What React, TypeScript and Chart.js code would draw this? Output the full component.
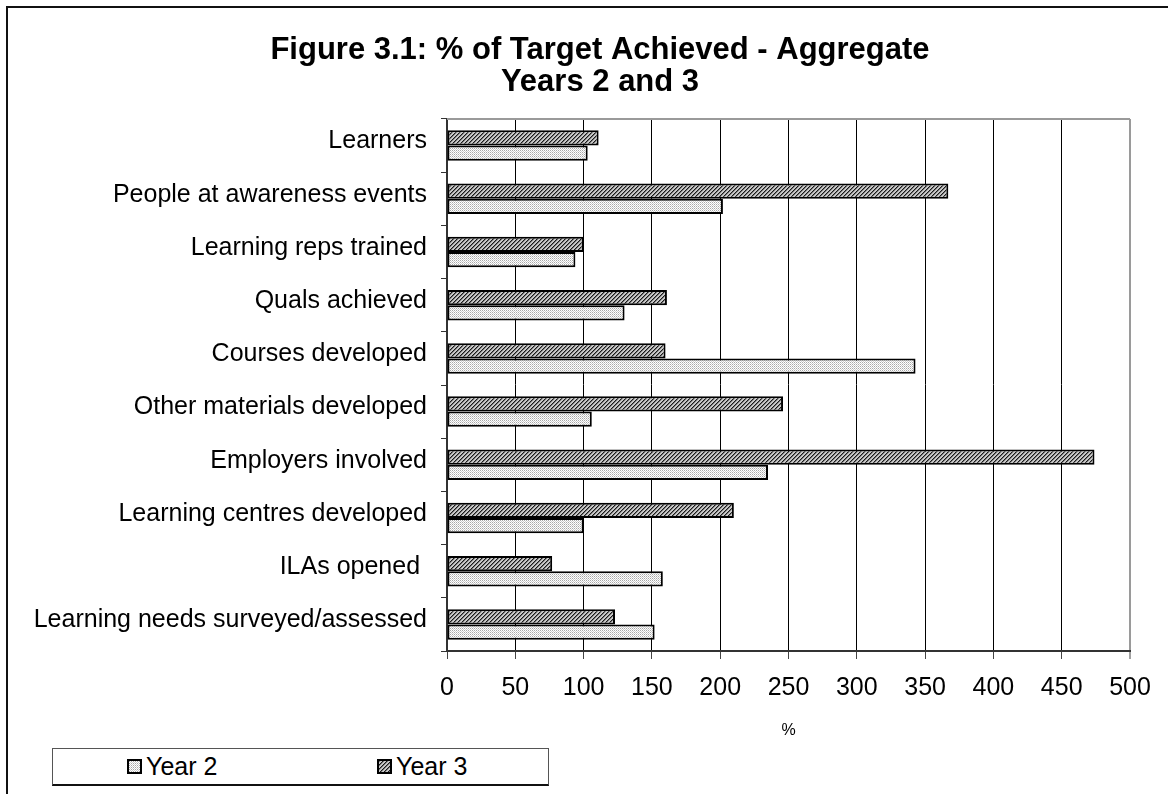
import React, { useEffect, useRef } from "react";
import { Chart, registerables } from "chart.js";

Chart.register(...registerables);

const categories = [
  "Learners",
  "People at awareness events",
  "Learning reps trained",
  "Quals achieved",
  "Courses developed",
  "Other materials developed",
  "Employers involved",
  "Learning centres developed",
  "ILAs opened ",
  "Learning needs surveyed/assessed",
];
const year2 = [103, 202, 94, 130, 343, 106, 235, 100, 158, 152];
const year3 = [111, 367, 100, 161, 160, 246, 474, 210, 77, 123];
const seriesNames = ["Year 2", "Year 3"];
const titleLines = ["Figure 3.1: % of Target Achieved - Aggregate", "Years 2 and 3"];
const xAxisTitle = "%";
const xMin = 0;
const xMax = 500;
const xStep = 50;

const FONT = '"Liberation Sans", Arial, Helvetica, sans-serif';

function makeHatch(): HTMLCanvasElement {
  const c = document.createElement("canvas");
  c.width = 4;
  c.height = 4;
  const g = c.getContext("2d")!;
  g.fillStyle = "#c8c8c8";
  g.fillRect(0, 0, 4, 4);
  for (let i = 0; i < 4; i++) {
    g.fillStyle = "#1a1a1a";
    g.fillRect(i, 3 - i, 1, 1);
    g.fillStyle = "#777";
    g.fillRect(i, (4 - i) % 4, 1, 1);
  }
  return c;
}

function makeDots(): HTMLCanvasElement {
  const c = document.createElement("canvas");
  c.width = 2;
  c.height = 2;
  const g = c.getContext("2d")!;
  g.fillStyle = "#ffffff";
  g.fillRect(0, 0, 2, 2);
  g.fillStyle = "#a8a8a8";
  g.fillRect(0, 0, 1, 1);
  g.fillStyle = "#cfcfcf";
  g.fillRect(1, 1, 1, 1);
  return c;
}

const decoPlugin = {
  id: "deco",
  beforeDatasetsDraw(chart: any) {
    const { ctx, chartArea: a } = chart;
    ctx.save();
    ctx.strokeStyle = "#9a9a9a";
    ctx.lineWidth = 2;
    ctx.beginPath();
    ctx.moveTo(a.left, a.top);
    ctx.lineTo(a.right, a.top);
    ctx.stroke();
    ctx.restore();
  },
  afterDraw(chart: any) {
    const { ctx } = chart;
    ctx.save();
    ctx.fillStyle = "#000";
    ctx.font = `bold 31px ${FONT}`;
    ctx.textAlign = "center";
    ctx.textBaseline = "alphabetic";
    ctx.fillText(titleLines[0], 600, 59);
    ctx.fillText(titleLines[1], 600, 91);
    ctx.restore();
  },
};

export default function App() {
  const canvasRef = useRef<HTMLCanvasElement | null>(null);
  const sw2 = useRef<HTMLDivElement | null>(null);
  const sw3 = useRef<HTMLDivElement | null>(null);

  useEffect(() => {
    const canvas = canvasRef.current!;
    const hatchC = makeHatch();
    const dotsC = makeDots();
    const ctx = canvas.getContext("2d")!;
    const hatch = ctx.createPattern(hatchC, "repeat")!;
    const dots = ctx.createPattern(dotsC, "repeat")!;
    if (sw2.current) sw2.current.style.backgroundImage = `url(${dotsC.toDataURL()})`;
    if (sw3.current) sw3.current.style.backgroundImage = `url(${hatchC.toDataURL()})`;

    const chart = new Chart(canvas, {
      type: "bar",
      data: {
        labels: categories,
        datasets: [
          {
            label: seriesNames[1],
            data: year3,
            backgroundColor: hatch as any,
            borderColor: "#000",
            borderWidth: 2,
            borderSkipped: false,
            categoryPercentage: 0.574,
            barPercentage: 1,
          },
          {
            label: seriesNames[0],
            data: year2,
            backgroundColor: dots as any,
            borderColor: "#000",
            borderWidth: 2,
            borderSkipped: false,
            categoryPercentage: 0.574,
            barPercentage: 1,
          },
        ],
      },
      options: {
        indexAxis: "y",
        responsive: false,
        animation: false,
        devicePixelRatio: 1,
        layout: { padding: { top: 119, right: 42, left: 0, bottom: 0 } },
        plugins: {
          legend: { display: false },
          title: { display: false },
          tooltip: { enabled: false },
        },
        scales: {
          x: {
            type: "linear",
            min: xMin,
            max: xMax,
            ticks: {
              stepSize: xStep,
              color: "#000",
              font: { size: 25, family: FONT },
              padding: 14,
              maxRotation: 0,
              autoSkip: false,
            },
            grid: {
              color: (c: any) => (c.tick && c.tick.value === xMax ? "#9a9a9a" : "#000"),
              lineWidth: (c: any) => (c.tick && c.tick.value === xMax ? 2 : 1),
              tickLength: 8,
              tickColor: "#444",
              tickWidth: 1,
            },
            border: { display: true, color: "#333", width: 2 },
            title: {
              display: true,
              text: xAxisTitle,
              color: "#000",
              font: { size: 16, family: FONT },
              padding: { top: 0, bottom: 5 },
            },
            afterFit: (s: any) => {
              s.height = 94;
            },
          },
          y: {
            type: "category",
            grid: {
              display: true,
              drawOnChartArea: false,
              drawTicks: true,
              tickLength: 6,
              color: "#333",
              offset: true,
            },
            border: { display: true, color: "#333", width: 2 },
            ticks: {
              color: "#000",
              font: { size: 25, family: FONT },
              padding: 14,
              autoSkip: false,
              labelOffset: -4,
            },
            afterFit: (s: any) => {
              s.width = 447;
            },
          },
        },
      },
      plugins: [decoPlugin],
    });
    return () => chart.destroy();
  }, []);

  const swatchStyle: React.CSSProperties = {
    width: 15,
    height: 15,
    border: "2px solid #000",
    boxSizing: "border-box",
    imageRendering: "pixelated",
    marginRight: 4,
  };

  return (
    <div
      style={{
        position: "absolute",
        left: 0,
        top: 0,
        width: 1172,
        height: 794,
        overflow: "hidden",
        background: "#fff",
        fontFamily: FONT,
      }}
    >
      <div
        style={{
          position: "absolute",
          left: 6,
          top: 6,
          width: 1162,
          height: 1000,
          borderTop: "2px solid #111",
          borderLeft: "2px solid #111",
          boxSizing: "border-box",
        }}
      />
      <canvas
        ref={canvasRef}
        width={1172}
        height={745}
        style={{ position: "absolute", left: 0, top: 0, width: 1172, height: 745 }}
      />
      <div
        style={{
          position: "absolute",
          left: 52,
          top: 748,
          width: 497,
          height: 38,
          borderTop: "1px solid #555",
          borderLeft: "1px solid #555",
          borderRight: "1px solid #555",
          borderBottom: "2px solid #111",
          boxSizing: "border-box",
          background: "#fff",
          fontSize: 25,
          color: "#000",
        }}
      >
        <div style={{ position: "absolute", left: 74, top: 0, height: 35, display: "flex", alignItems: "center" }}>
          <div ref={sw2} style={swatchStyle} />
          <span>{seriesNames[0]}</span>
        </div>
        <div style={{ position: "absolute", left: 324, top: 0, height: 35, display: "flex", alignItems: "center" }}>
          <div ref={sw3} style={swatchStyle} />
          <span>{seriesNames[1]}</span>
        </div>
      </div>
    </div>
  );
}
